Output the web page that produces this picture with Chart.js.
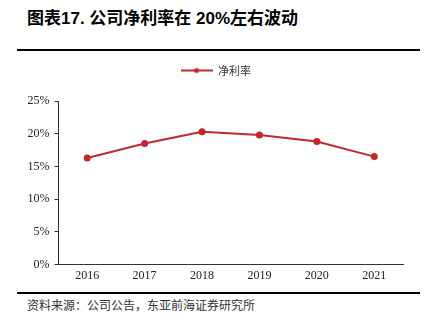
<!DOCTYPE html>
<html>
<head>
<meta charset="utf-8">
<script src="https://cdn.jsdelivr.net/npm/chart.js@4"></script>
<style>
  body { margin: 0; background: #fff; width: 426px; height: 326px; position: relative; overflow: hidden; }
  #title { position: absolute; left: 27px; top: 4px; font: bold 17px "Liberation Sans", "Noto Sans CJK SC"; color: #000; }
  .rule { position: absolute; left: 17px; width: 403px; height: 2px; background: #000; }
  #source { position: absolute; left: 27px; top: 296px; font: 12px "Noto Sans CJK SC"; color: #333; }
  #wrap { position: absolute; left: 0; top: 51px; width: 409px; height: 236px; }
</style>
</head>
<body>
<div id="title">图表17. 公司净利率在 20%左右波动</div>
<div class="rule" style="top:49px"></div>
<div id="wrap"><canvas id="myChart"></canvas></div>
<div class="rule" style="top:292px"></div>
<div id="source">资料来源：公司公告，东亚前海证券研究所</div>
<script>
const years = ['2016', '2017', '2018', '2019', '2020', '2021'];
const netMargin = [16.3, 18.5, 20.3, 19.8, 18.8, 16.5];
const seriesName = '净利率';

const red = '#c1272d';

// legend marker: line with a dot in the middle
const marker = document.createElement('canvas');
marker.width = 32;
marker.height = 8;
const m = marker.getContext('2d');
m.strokeStyle = red;
m.lineWidth = 2;
m.beginPath();
m.moveTo(0, 4);
m.lineTo(32, 4);
m.stroke();
m.fillStyle = red;
m.beginPath();
m.arc(16, 4, 2.5, 0, Math.PI * 2);
m.fill();

// extra space under the legend
const legendGap = {
  id: 'legendGap',
  beforeInit(chart) {
    const fit = chart.legend.fit;
    chart.legend.fit = function () {
      fit.bind(chart.legend)();
      this.height += 15;
    };
  }
};

const ctx = document.getElementById('myChart');

new Chart(ctx, {
  type: 'line',
  data: {
    labels: years,
    datasets: [{
      label: seriesName,
      data: netMargin,
      borderColor: red,
      backgroundColor: red,
      borderWidth: 2,
      pointRadius: 2.5,
      pointStyle: 'circle',
      tension: 0
    }]
  },
  plugins: [legendGap],
  options: {
    responsive: true,
    maintainAspectRatio: false,
    animation: false,
    layout: { padding: { left: 22.5, right: 0, top: 0, bottom: 0 } },
    plugins: {
      legend: {
        position: 'top',
        labels: {
          usePointStyle: true,
          pointStyleWidth: 32,
          color: '#333',
          font: { family: 'Noto Sans CJK SC', size: 11 },
          padding: 14,
          generateLabels: () => [{
            text: seriesName,
            pointStyle: marker,
            fillStyle: red,
            strokeStyle: red,
            lineWidth: 0,
            fontColor: '#333',
            datasetIndex: 0
          }]
        }
      },
      tooltip: { enabled: false }
    },
    scales: {
      x: {
        offset: true,
        grid: { display: false, drawTicks: false },
        border: { display: true, color: '#333', width: 1 },
        ticks: {
          color: '#222',
          padding: 4,
          font: { family: 'Liberation Serif', size: 12 }
        }
      },
      y: {
        min: 0,
        max: 25,
        grid: { drawOnChartArea: false, drawTicks: true, tickLength: 4, color: '#333' },
        border: { display: true, color: '#333', width: 1 },
        ticks: {
          stepSize: 5,
          color: '#222',
          padding: 5,
          font: { family: 'Liberation Serif', size: 12 },
          callback: (v) => v + '%'
        }
      }
    }
  }
});
</script>
</body>
</html>
